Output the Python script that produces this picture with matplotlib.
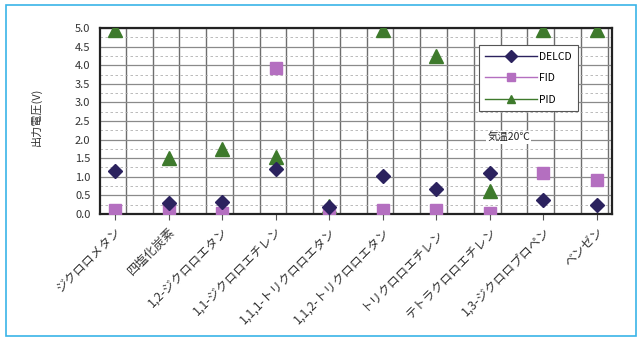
import numpy as np
import matplotlib
matplotlib.use("Agg")
import matplotlib.pyplot as plt
from matplotlib.patches import Rectangle

plt.rcParams['font.family'] = ['Noto Sans CJK JP', 'DejaVu Sans']

compounds = ["ジクロロメタン", "四塩化炭素", "1,2-ジクロロエタン", "1,1-ジクロロエチレン",
             "1,1,1-トリクロロエタン", "1,1,2-トリクロロエタン", "トリクロロエチレン",
             "テトラクロロエチレン", "1,3-ジクロロプロペン", "ベンゼン"]
delcd = [1.15, 0.30, 0.33, 1.21, 0.20, 1.02, 0.68, 1.10, 0.37, 0.25]
fid = [0.10, 0.17, 0.03, 3.92, 0.03, 0.10, 0.10, 0.02, 1.10, 0.92]
pid = [4.95, 1.50, 1.76, 1.53, 0.22, 4.95, 4.25, 0.62, 4.95, 4.95]
yticks = np.arange(0, 5.01, 0.5)

x = np.arange(1, len(compounds) + 1)

fig = plt.figure(figsize=(6.38, 3.38), dpi=100)
fig.patches.append(Rectangle((0.009, 0.006), 0.988, 0.98, transform=fig.transFigure,
                             fill=False, edgecolor="#3ab4e8", linewidth=1.2))
ax = fig.add_axes([0.157, 0.367, 0.802, 0.55])

c_del = "#2b225e"
c_fid = "#b46fc0"
c_pid = "#3e7a2c"

ax.plot(x, delcd, linestyle="none", marker="D", markersize=7.5, color=c_del, label="DELCD", zorder=5)
ax.plot(x, fid, linestyle="none", marker="s", markersize=9, color=c_fid, label="FID", zorder=4)
ax.plot(x, pid, linestyle="none", marker="^", markersize=9.5, color=c_pid, label="PID", zorder=3)

ax.set_xlim(0.72, 10.28)
ax.set_ylim(0, 5.0)
ax.set_yticks(yticks)
ax.set_yticklabels([f"{v:.1f}" for v in yticks], fontsize=8, color="#333333")
ax.set_yticks(np.arange(0.25, 5.0, 0.5), minor=True)
ax.set_xticks(x)
ax.set_xticklabels(compounds, rotation=45, ha="right", rotation_mode="anchor", fontsize=8.8, color="#333333")
ax.set_xticks(np.arange(1.2, 10.3, 0.5), minor=True)
ax.tick_params(axis="y", length=0, pad=7)
ax.tick_params(axis="x", which="major", length=4, width=0.8, color="#555555", pad=4)
ax.tick_params(which="minor", length=0)
ax.grid(axis="y", which="major", color="#8a8a8a", linewidth=0.9)
ax.grid(axis="y", which="minor", color="#b0b0b0", linewidth=0.6, linestyle=(0, (3, 3)))
ax.grid(axis="x", which="minor", color="#6e6e6e", linewidth=1.0)
ax.set_axisbelow(True)
for sp in ax.spines.values():
    sp.set_linewidth(1.6)
    sp.set_color("#222222")

ax.set_ylabel("出力電圧(V)", fontsize=8, color="#333333")
ax.yaxis.set_label_coords(-0.115, 0.52)

leg = ax.legend(loc="upper left", bbox_to_anchor=(0.73, 0.935), fontsize=7.5,
                frameon=True, fancybox=False, edgecolor="#555555", framealpha=1,
                handlelength=5.0, borderpad=0.6, labelspacing=1.1, handletextpad=0.2)
for h, c in zip(leg.legend_handles, [c_del, c_fid, c_pid]):
    h.set_linestyle("-")
    h.set_linewidth(1.0)
    h.set_markersize(6)
leg.get_frame().set_linewidth(0.8)

ax.text(7.95, 2.05, "気温20℃", fontsize=7.5, color="#222222", va="center",
        bbox=dict(facecolor="white", edgecolor="none", pad=1))

fig.savefig("out.png", dpi=100)
